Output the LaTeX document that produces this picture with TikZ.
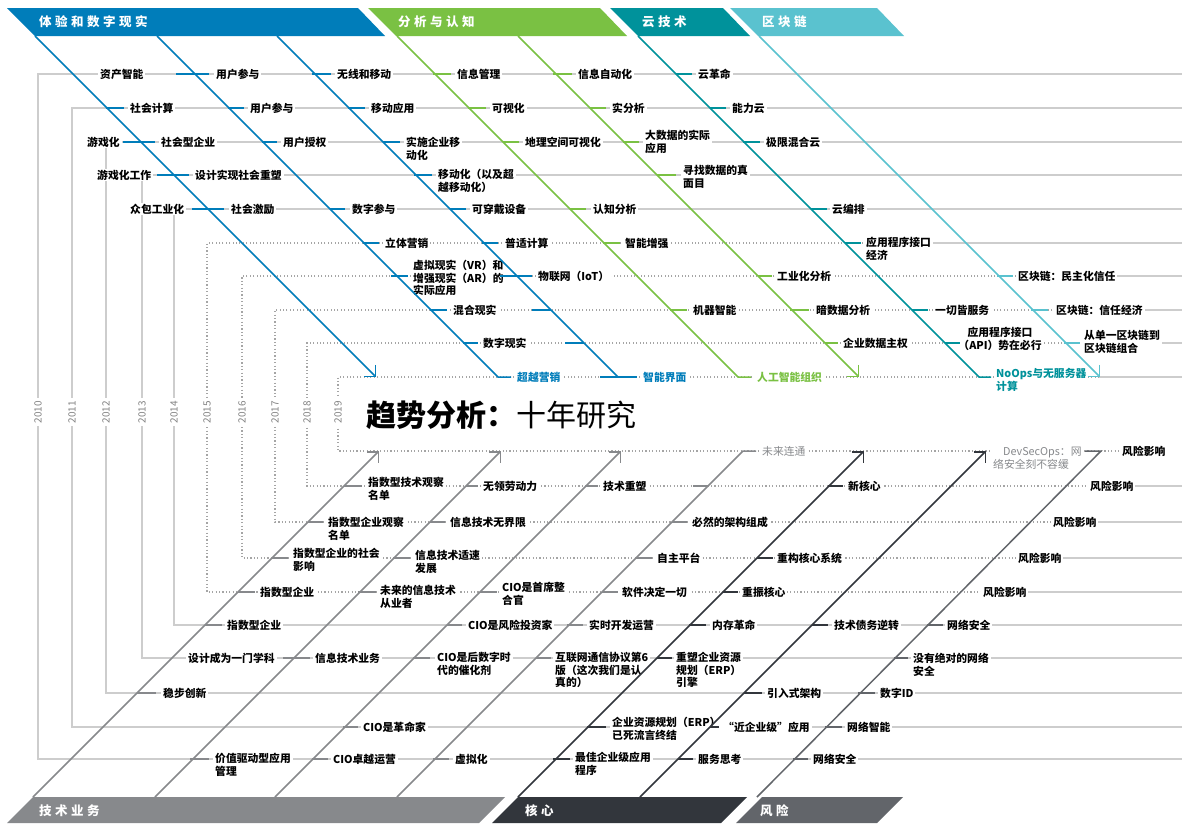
\documentclass[tikz,border=0pt]{standalone}
\usepackage{fontspec}
\setmainfont{Noto Sans CJK SC}
\usetikzlibrary{arrows.meta}
\definecolor{cB}{RGB}{0,125,186}
\definecolor{cG}{RGB}{122,193,67}
\definecolor{cT}{RGB}{0,146,155}
\definecolor{cL}{RGB}{90,194,207}
\definecolor{cD}{RGB}{135,137,140}
\definecolor{cC}{RGB}{50,54,60}
\definecolor{cR}{RGB}{98,101,106}
\definecolor{gl}{RGB}{205,205,205}
\definecolor{gd}{RGB}{165,165,165}
\definecolor{gt}{RGB}{130,130,130}
\newcommand\bgap{\hspace{3.5pt}}
\begin{document}
\begin{tikzpicture}[x=1pt,y=-1pt,
  solidrow/.style={draw=gl,line width=1.2pt},
  dotrow/.style={draw=gd,line width=1.1pt,dash pattern=on 1.1pt off 2.3pt},
  lb/.style={anchor=west,xshift=-2pt,fill=white,inner xsep=2pt,inner ysep=1pt,
    font=\bfseries\fontsize{10.8}{12.6}\selectfont,text=black},
  lbm/.style={lb,anchor=north west,yshift=6pt,align=left},
  lg/.style={lb,font=\fontsize{10.8}{12.6}\selectfont,text=cD},
  lgm/.style={lg,anchor=north west,yshift=6pt,align=left},
  yr/.style={rotate=90,fill=white,inner sep=3pt,text=gt,font=\fontsize{10}{11}\selectfont},
  bnr/.style={anchor=west,inner sep=0pt,text=white,font=\bfseries\fontsize{12.5}{14}\selectfont},
  dg/.style={line width=1.5pt},
  tk/.style={line width=2.2pt},
  tipA/.style={-{Straight Barb[length=8pt,width=16pt]}}
]
\useasboundingbox (0,0) rectangle (1182,823);
\fill[white] (0,0) rectangle (1182,823);

% ---------- banners ----------
\fill[cB] (7,8) -- (358,8) -- (385,36) -- (35,36) -- cycle;
\fill[cG] (368,8) -- (600,8) -- (627,36) -- (396,36) -- cycle;
\fill[cT] (610,8) -- (723,8) -- (750,36) -- (638,36) -- cycle;
\fill[cL] (730,8) -- (877,8) -- (904,36) -- (758,36) -- cycle;
\fill[cD] (33,797) -- (505,797) -- (479,823) -- (7,823) -- cycle;
\fill[cC] (518,797) -- (747,797) -- (721,823) -- (492,823) -- cycle;
\fill[cR] (762,797) -- (903,797) -- (877,823) -- (736,823) -- cycle;
\node[bnr] (hB) at (39,22) {体\bgap 验\bgap 和\bgap 数\bgap 字\bgap 现\bgap 实};
\node[bnr] (hG) at (398,22) {分\bgap 析\bgap 与\bgap 认\bgap 知};
\node[bnr] (hT) at (642,22) {云\bgap 技\bgap 术};
\node[bnr] (hL) at (762,22) {区\bgap 块\bgap 链};
\node[bnr] (hD) at (39,811) {技\bgap 术\bgap 业\bgap 务};
\node[bnr] (hC) at (525,811) {核\bgap 心};
\node[bnr] (hR) at (760,811) {风\bgap 险};

% ---------- year frames ----------
\draw[solidrow] (1182,74) -- (38,74) -- (38,759) -- (1182,759);
\draw[solidrow] (1182,108) -- (72,108) -- (72,727) -- (1182,727);
\draw[solidrow] (1182,142) -- (106,142) -- (106,693) -- (1182,693);
\draw[solidrow] (1182,175) -- (142,175) -- (142,658) -- (1182,658);
\draw[solidrow] (1182,209) -- (174,209) -- (174,625) -- (1182,625);
\draw[dotrow] (900,243) -- (207,243) -- (207,592) -- (1000,592);
\draw[solidrow] (900,243) -- (1182,243);
\draw[solidrow] (1000,592) -- (1182,592);
\draw[dotrow] (1060,276) -- (242,276) -- (242,558) -- (1035,558);
\draw[solidrow] (1060,276) -- (1182,276);
\draw[solidrow] (1035,558) -- (1182,558);
\draw[dotrow] (1100,310) -- (275,310) -- (275,522) -- (1070,522);
\draw[solidrow] (1100,310) -- (1182,310);
\draw[solidrow] (1070,522) -- (1182,522);
\draw[dotrow] (1120,343) -- (307,343) -- (307,486) -- (1105,486);
\draw[solidrow] (1120,343) -- (1182,343);
\draw[solidrow] (1105,486) -- (1182,486);
\draw[dotrow] (1099,377) -- (338,377) -- (338,451) -- (1121,451);
\draw[solidrow] (1099,377) -- (1182,377);

\node[yr] (y10) at (38,412) {2010};
\node[yr] (y11) at (72,412) {2011};
\node[yr] (y12) at (106,412) {2012};
\node[yr] (y13) at (142,412) {2013};
\node[yr] (y14) at (174,412) {2014};
\node[yr] (y15) at (207,412) {2015};
\node[yr] (y16) at (242,412) {2016};
\node[yr] (y17) at (275,412) {2017};
\node[yr] (y18) at (307,412) {2018};
\node[yr] (y19) at (338,412) {2019};

% ---------- title ----------
\node[anchor=west,inner sep=0pt,font=\fontsize{30}{32}\selectfont] (title) at (366,415) {\textbf{趋势分析：}十年研究};

% ---------- top labels ----------
\node[lb] (a1) at (100,74) {资产智能};
\node[lb] (a2) at (216,74) {用户参与};
\node[lb] (a3) at (337,74) {无线和移动};
\node[lb] (a4) at (457,74) {信息管理};
\node[lb] (a5) at (578,74) {信息自动化};
\node[lb] (a6) at (698,74) {云革命};
\node[lb] (b1) at (130,108) {社会计算};
\node[lb] (b2) at (250,108) {用户参与};
\node[lb] (b3) at (371,108) {移动应用};
\node[lb] (b4) at (492,108) {可视化};
\node[lb] (b5) at (612,108) {实分析};
\node[lb] (b6) at (732,108) {能力云};
\node[lb] (c0) at (87,142) {游戏化};
\node[lb] (c1) at (161,142) {社会型企业};
\node[lb] (c2) at (283,142) {用户授权};
\node[lbm] (c3) at (406,142) {实施企业移\\动化};
\node[lb] (c4) at (525,142) {地理空间可视化};
\node[lbm] (c5) at (645,135) {大数据的实际\\应用};
\node[lb] (c6) at (766,142) {极限混合云};
\node[lb] (d0) at (97,175) {游戏化工作};
\node[lb] (d1) at (195,175) {设计实现社会重塑};
\node[lbm] (d2) at (438,174) {移动化（以及超\\越移动化）};
\node[lbm] (d3) at (683,170) {寻找数据的真\\面目};
\node[lb] (e0) at (130,209) {众包工业化};
\node[lb] (e1) at (231,209) {社会激励};
\node[lb] (e2) at (352,209) {数字参与};
\node[lb] (e3) at (472,209) {可穿戴设备};
\node[lb] (e4) at (593,209) {认知分析};
\node[lb] (e5) at (832,209) {云编排};
\node[lb] (f1) at (385,243) {立体营销};
\node[lb] (f2) at (505,243) {普适计算};
\node[lb] (f3) at (625,243) {智能增强};
\node[lbm] (f4) at (866,242) {应用程序接口\\经济};
\node[lbm] (g1) at (413,265) {虚拟现实（VR）和\\增强现实（AR）的\\实际应用};
\node[lb] (g2) at (538,276) {物联网（IoT）};
\node[lb] (g3) at (777,276) {工业化分析};
\node[lb] (g4) at (1018,276) {区块链：民主化信任};
\node[lb] (h1) at (453,310) {混合现实};
\node[lb] (h2) at (693,310) {机器智能};
\node[lb] (h3) at (816,310) {暗数据分析};
\node[lb] (h4) at (935,310) {一切皆服务};
\node[lb] (h5) at (1056,310) {区块链：信任经济};
\node[lb] (i1) at (483,343) {数字现实};
\node[lb] (i2) at (843,343) {企业数据主权};
\node[lbm,anchor=north,align=center] (i3) at (1002,332) {应用程序接口\\（API）势在必行};
\node[lbm] (i4) at (1084,335) {从单一区块链到\\区块链组合};
\node[lb,text=cB] (j1) at (517,377) {超越营销};
\node[lb,text=cB] (j2) at (643,377) {智能界面};
\node[lb,text=cG] (j3) at (757,377) {人工智能组织};
\node[lbm,text=cT] (j4) at (996,373) {NoOps与无服务器\\计算};

% ---------- bottom labels ----------
\node[lg] (k1) at (762,451) {未来连通};
\node[lgm] (k2) at (993,452) {\hspace*{10pt}DevSecOps：网\\络安全刻不容缓};
\node[lb] (k3) at (1122,451) {风险影响};
\node[lbm] (l1) at (368,482) {指数型技术观察\\名单};
\node[lb] (l2) at (483,486) {无领劳动力};
\node[lb] (l3) at (603,486) {技术重塑};
\node[lb] (l4) at (848,486) {新核心};
\node[lb] (l5) at (1090,486) {风险影响};
\node[lbm] (m1) at (328,522) {指数型企业观察\\名单};
\node[lb] (m2) at (450,522) {信息技术无界限};
\node[lb] (m3) at (692,522) {必然的架构组成};
\node[lb] (m4) at (1053,522) {风险影响};
\node[lbm] (n1) at (293,553) {指数型企业的社会\\影响};
\node[lbm] (n2) at (415,555) {信息技术适速\\发展};
\node[lb] (n3) at (657,558) {自主平台};
\node[lb] (n4) at (777,558) {重构核心系统};
\node[lb] (n5) at (1018,558) {风险影响};
\node[lb] (o1) at (260,592) {指数型企业};
\node[lbm] (o2) at (380,590) {未来的信息技术\\从业者};
\node[lbm] (o3) at (502,587) {CIO是首席整\\合官};
\node[lb] (o4) at (622,592) {软件决定一切};
\node[lb] (o5) at (742,592) {重振核心};
\node[lb] (o6) at (983,592) {风险影响};
\node[lb] (p1) at (227,625) {指数型企业};
\node[lb] (p2) at (468,625) {CIO是风险投资家};
\node[lb] (p3) at (589,625) {实时开发运营};
\node[lb] (p4) at (712,625) {内存革命};
\node[lb] (p5) at (834,625) {技术债务逆转};
\node[lb] (p6) at (947,625) {网络安全};
\node[lb] (q1) at (188,658) {设计成为一门学科};
\node[lb] (q2) at (315,658) {信息技术业务};
\node[lbm] (q3) at (437,657) {CIO是后数字时\\代的催化剂};
\node[lbm] (q4) at (555,657) {互联网通信协议第6\\版（这次我们是认\\真的）};
\node[lbm] (q5) at (676,657) {重塑企业资源\\规划（ERP）\\引擎};
\node[lbm] (q6) at (913,658) {没有绝对的网络\\安全};
\node[lb] (r1) at (163,693) {稳步创新};
\node[lb] (r2) at (767,693) {引入式架构};
\node[lb] (r3) at (880,693) {数字ID};
\node[lb] (s1) at (363,727) {CIO是革命家};
\node[lbm] (s2) at (612,722) {企业资源规划（ERP）\\已死流言终结};
\node[lb] (s3) at (723,727) {“近企业级”应用};
\node[lb] (s4) at (847,727) {网络智能};
\node[lbm] (t1) at (215,758) {价值驱动型应用\\管理};
\node[lb] (t2) at (333,759) {CIO卓越运营};
\node[lb] (t3) at (455,759) {虚拟化};
\node[lbm] (t4) at (575,757) {最佳企业级应用\\程序};
\node[lb] (t5) at (698,759) {服务思考};
\node[lb] (t6) at (813,759) {网络安全};

% ---------- diagonal trend lines (top) ----------
\coordinate (sB1) at (35,36);  \coordinate (eB1) at (376,377);
\coordinate (sB2) at (157,36); \coordinate (eB2) at (498,377);
\coordinate (sB3) at (277,36); \coordinate (eB3) at (618,377);
\coordinate (sG1) at (397,36); \coordinate (eG1) at (738,377);
\coordinate (sG2) at (518,36); \coordinate (eG2) at (859,377);
\coordinate (sT1) at (638,36); \coordinate (eT1) at (979,377);
\coordinate (sL1) at (759,36); \coordinate (eL1) at (1100,377);
\draw[dg,cB,tipA] (sB1) -- (eB1);
\draw[dg,cB] (sB2) -- (eB2) -- ([xshift=-4pt]j1.west);
\draw[dg,cB] (sB3) -- (eB3);
\draw[dg,cG] (sG1) -- (eG1) -- ([xshift=-4pt]j3.west);
\draw[dg,cG,tipA] (sG2) -- (eG2);
\draw[dg,cT] (sT1) -- (eT1) -- (991,377);
\draw[dg,cL,tipA] (sL1) -- (eL1);

% ---------- diagonal trend lines (bottom) ----------
\coordinate (sD1) at (33,797);  \coordinate (eD1) at (379,451);
\coordinate (sD2) at (155,797); \coordinate (eD2) at (501,451);
\coordinate (sD3) at (275,797); \coordinate (eD3) at (621,451);
\coordinate (sD4) at (397,797); \coordinate (eD4) at (743,451);
\coordinate (sC1) at (518,797); \coordinate (eC1) at (864,451);
\coordinate (sC2) at (640,797); \coordinate (eC2) at (986,451);
\coordinate (sR1) at (757,797); \coordinate (eR1) at (1101,451);
\draw[dg,cD,tipA] (sD1) -- (eD1);
\draw[dg,cD,tipA] (sD2) -- (eD2);
\draw[dg,cD,tipA] (sD3) -- (eD3);
\draw[dg,cD] (sD4) -- (eD4) -- ([xshift=-4pt]k1.west);
\draw[dg,cC,tipA] (sC1) -- (eC1);
\draw[dg,cC,tipA] (sC2) -- (eC2);
\draw[dg,cR] (sR1) -- (eR1) -- (1085,451);

% ---------- ticks (top) ----------
\begin{scope}[tk,cB]
\draw (176,74) -- (209,74); \draw (312,74) -- (331,74);
\draw (106,108) -- (124,108); \draw (228,108) -- (244,108); \draw (348,108) -- (365,108);
\draw (123,142) -- (155,142); \draw (262,142) -- (277,142); \draw (383,142) -- (400,142);
\draw (157,175) -- (189,175); \draw (414,175) -- (432,175);
\draw (192,209) -- (224,209); \draw (330,209) -- (345,209); \draw (450,209) -- (466,209);
\draw (363,243) -- (379,243); \draw (482,243) -- (498,243);
\draw (391,276) -- (408,276); \draw (500,276) -- (532,276);
\draw (430,310) -- (447,310); \draw (532,310) -- (551,310);
\draw (463,343) -- (478,343); \draw (565,343) -- (584,343);
\draw (600,377) -- (637,377);
\end{scope}
\begin{scope}[tk,cG]
\draw (433,74) -- (451,74); \draw (553,74) -- (572,74);
\draw (468,108) -- (486,108); \draw (590,108) -- (606,108);
\draw (503,142) -- (519,142); \draw (623,142) -- (639,142);
\draw (657,175) -- (676,175);
\draw (570,209) -- (586,209);
\draw (603,243) -- (620,243);
\draw (758,276) -- (772,276);
\draw (670,310) -- (687,310); \draw (790,310) -- (809,310);
\draw (825,343) -- (838,343);
\end{scope}
\begin{scope}[tk,cT]
\draw (676,74) -- (692,74); \draw (710,108) -- (726,108); \draw (743,142) -- (760,142);
\draw (811,209) -- (827,209); \draw (845,243) -- (861,243); \draw (912,310) -- (928,310);
\draw (945,343) -- (960,343);
\end{scope}
\begin{scope}[tk,cL]
\draw (997,276) -- (1013,276); \draw (1031,310) -- (1048,310); \draw (1064,343) -- (1080,343);
\end{scope}

% ---------- ticks (bottom) ----------
\begin{scope}[tk,cD]
\draw (344,486) -- (362,486); \draw (466,486) -- (478,486); \draw (586,486) -- (598,486); \draw (693,486) -- (708,486);
\draw (308,522) -- (323,522); \draw (430,522) -- (445,522); \draw (672,522) -- (687,522);
\draw (272,558) -- (288,558); \draw (393,558) -- (410,558); \draw (636,558) -- (652,558);
\draw (238,592) -- (255,592); \draw (358,592) -- (376,592); \draw (480,592) -- (497,592); \draw (602,592) -- (618,592);
\draw (205,625) -- (222,625); \draw (447,625) -- (462,625); \draw (567,625) -- (583,625);
\draw (283,658) -- (310,658); \draw (413,658) -- (430,658); \draw (536,658) -- (551,658);
\draw (137,693) -- (156,693);
\draw (343,727) -- (358,727);
\draw (190,759) -- (209,759); \draw (312,759) -- (328,759); \draw (433,759) -- (449,759);
\end{scope}
\begin{scope}[tk,cC]
\draw (828,486) -- (843,486);
\draw (757,558) -- (773,558);
\draw (723,592) -- (738,592);
\draw (689,625) -- (706,625); \draw (812,625) -- (828,625);
\draw (657,658) -- (672,658);
\draw (744,693) -- (762,693);
\draw (587,727) -- (606,727); \draw (710,727) -- (719,727);
\draw (553,759) -- (570,759); \draw (678,759) -- (693,759);
\end{scope}
\begin{scope}[tk,cR]
\draw (927,625) -- (943,625); \draw (894,658) -- (908,658); \draw (858,693) -- (875,693);
\draw (825,727) -- (842,727); \draw (793,759) -- (808,759);
\end{scope}
\end{tikzpicture}
\end{document}
